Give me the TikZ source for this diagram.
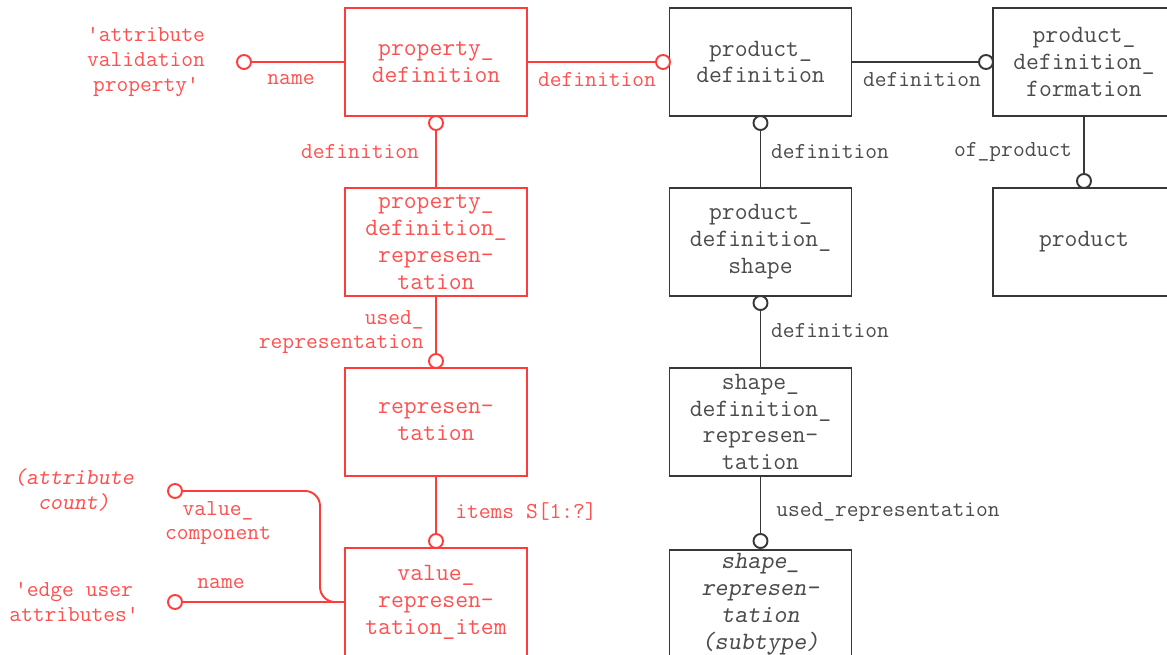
\documentclass[tikz,border=0pt]{standalone}
\usepackage{fontspec}
\definecolor{lred}{RGB}{255,60,60}
\definecolor{tred}{RGB}{255,80,80}
\definecolor{dgray}{RGB}{55,55,55}
\definecolor{tgray}{RGB}{75,75,75}
\tikzset{
	ent/.style={draw,line width=1.1pt,minimum width=3.64cm,minimum height=2.16cm,inner sep=0pt,align=center,font=\ttfamily\fontsize{14.2}{15.3}\selectfont},
	redent/.style={ent,draw=lred,text=tred},
	grayent/.style={ent,draw=dgray,text=tgray},
	ring/.style={draw,circle,fill=white,line width=1.1pt,minimum size=0.28cm,inner sep=0pt},
	redline/.style={draw=lred,line width=1.1pt},
	grayline/.style={draw=dgray,line width=1.1pt},
	lbl/.style={font=\ttfamily\fontsize{13}{14}\selectfont,align=center,inner sep=0pt},
	redlbl/.style={lbl,text=tred},
	graylbl/.style={lbl,text=tgray}
}
\begin{document}
\begin{tikzpicture}[x=0.02cm,y=-0.02cm]
		\useasboundingbox (0,0) rectangle (1167,655);
		% entities
		\node [redent] (propdef) at (436,62) {property\_\\definition};
		\node [grayent] (proddef) at (760.5,62) {product\_\\definition};
		\node [grayent] (pdf) at (1084,62) {product\_\\definition\_\\formation};
		\node [redent] (pdr) at (436,242) {property\_\\definition\_\\represen-\\tation};
		\node [grayent] (pds) at (760.5,242) {product\_\\definition\_\\shape};
		\node [grayent] (product) at (1084,242) {product};
		\node [redent] (rep) at (436,422) {represen-\\tation};
		\node [grayent] (sdr) at (760.5,422) {shape\_\\definition\_\\represen-\\tation};
		\node [redent] (vri) at (436,602) {value\_\\represen-\\tation\_item};
		\node [grayent,font=\ttfamily\slshape\fontsize{14.2}{15.3}\selectfont] (shaperep) at (760.5,604) {shape\_\\represen-\\tation\\(subtype)};
		% rings
		\node [ring,draw=lred] (avpend) at (244,62) {};
		\node [ring,draw=lred] (ringproddef) at (663,62) {};
		\node [ring,draw=dgray] (ringpdf) at (986,62) {};
		\node [ring,draw=lred] (ringpropdef) at (436,123) {};
		\node [ring,draw=dgray] (ringproddefb) at (760.5,123) {};
		\node [ring,draw=dgray] (ringproduct) at (1084,181) {};
		\node [ring,draw=lred] (ringrep) at (436,361) {};
		\node [ring,draw=dgray] (ringpds) at (760.5,303) {};
		\node [ring,draw=lred] (ringvri) at (436,541) {};
		\node [ring,draw=dgray] (ringshaperep) at (760.5,541) {};
		\node [ring,draw=lred] (countend) at (175,491) {};
		\node [ring,draw=lred] (edgeend) at (175,602) {};
		% connectors
		\draw[redline] (avpend) -- (propdef);
		\draw[redline] (propdef) -- (ringproddef);
		\draw[grayline] (proddef) -- (ringpdf);
		\draw[redline] (ringpropdef) -- (pdr);
		\draw[grayline] (ringproddefb) -- (pds);
		\draw[grayline] (pdf) -- (ringproduct);
		\draw[redline] (pdr) -- (ringrep);
		\draw[grayline] (ringpds) -- (sdr);
		\draw[redline] (rep) -- (ringvri);
		\draw[grayline] (sdr) -- (ringshaperep);
		\coordinate (bend) at (320,602);
		\draw[redline,rounded corners=0.3cm] (countend) -| (bend) -- (vri.west);
		\draw[redline] (edgeend) -- (vri);
		% labels
		\node [redlbl] (avptext) at (146,62) {'attribute\\validation\\property'};
		\node [redlbl] (namea) at (291,80) {name};
		\node [redlbl] (defa) at (597,80) {definition};
		\node [graylbl] (defb) at (922,80) {definition};
		\node [redlbl] (defc) at (360,152) {definition};
		\node [graylbl] (defd) at (830,152) {definition};
		\node [graylbl] (ofprod) at (1013,152) {of\_product};
		\node [redlbl,align=right,anchor=east] (usedrep) at (424,332) {used\_\\representation};
		\node [graylbl] (defe) at (830,331) {definition};
		\node [redlbl] (items) at (526,512) {items S[1:?]};
		\node [graylbl] (usedrepb) at (888,512) {used\_representation};
		\node [redlbl,font=\ttfamily\slshape\fontsize{13}{14}\selectfont] (counttext) at (74,490) {(attribute\\count)};
		\node [redlbl] (valcomp) at (218,523) {value\_\\component};
		\node [redlbl] (nameb) at (221,584) {name};
		\node [redlbl] (edgetext) at (74,602) {'edge user\\attributes'};
	\end{tikzpicture}
\end{document}
